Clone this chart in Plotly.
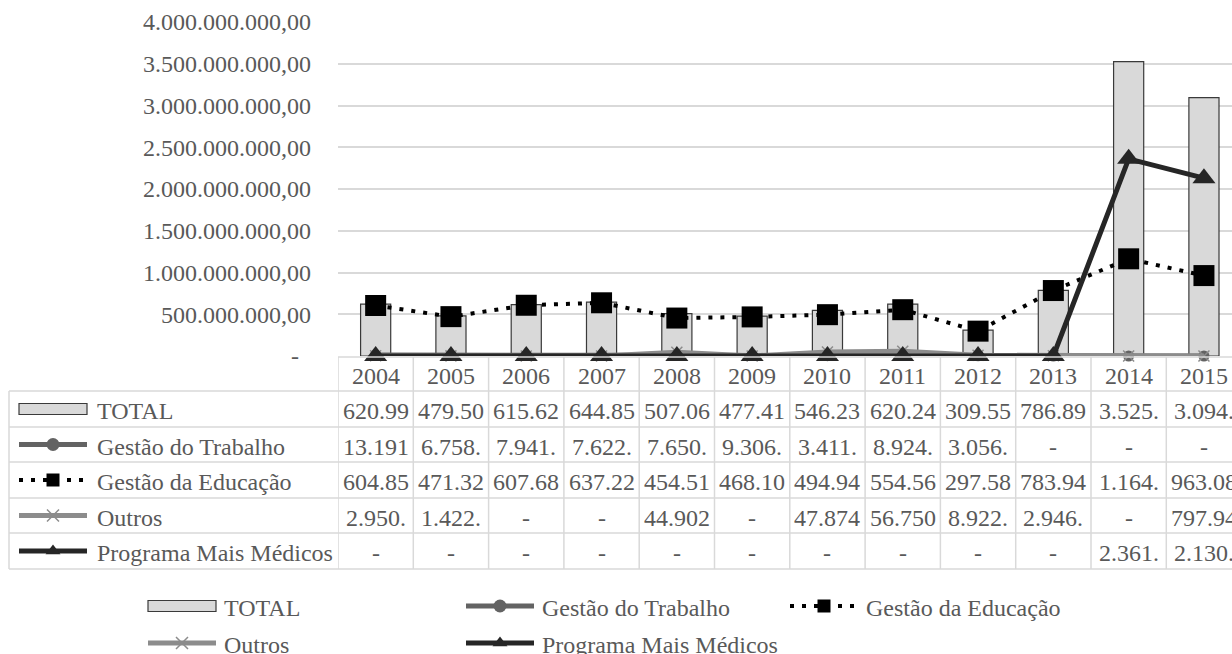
import plotly.graph_objects as go

# ---------------------------------------------------------------- data
anos = ["2004", "2005", "2006", "2007", "2008", "2009",
        "2010", "2011", "2012", "2013", "2014", "2015"]

total = [620_990_000, 479_500_000, 615_620_000, 644_850_000, 507_060_000, 477_410_000,
         546_230_000, 620_240_000, 309_550_000, 786_890_000, 3_525_000_000, 3_094_000_000]
gestao_trabalho = [13_191_000, 6_758_000, 7_941_000, 7_622_000, 7_650_000, 9_306_000,
                   3_411_000, 8_924_000, 3_056_000, 0, 0, 0]
gestao_educacao = [604_850_000, 471_320_000, 607_680_000, 637_220_000, 454_510_000, 468_100_000,
                   494_940_000, 554_560_000, 297_580_000, 783_940_000, 1_164_000_000, 963_080_000]
outros = [2_950_000, 1_422_000, 0, 0, 44_902_000, 0,
          47_874_000, 56_750_000, 8_922_000, 2_946_000, 0, 797_940]
mais_medicos = [0, 0, 0, 0, 0, 0, 0, 0, 0, 0, 2_361_000_000, 2_130_000_000]

y_ticks = [0, 500_000_000, 1_000_000_000, 1_500_000_000, 2_000_000_000,
           2_500_000_000, 3_000_000_000, 3_500_000_000, 4_000_000_000]

# ---------------------------------------------------------------- styling
W, H = 1232, 654
FONT = "Liberation Serif, Times New Roman, serif"
TXT = "#595959"
GRID = "#d9d9d9"
FS = 24

PLOT_L, PLOT_T, PLOT_B = 338, 22, 356   # plot area in pixels
COL_W = 75.3                             # width of one category column
TABLE_L = 9
ROW_LINES = [391, 427, 462, 498, 533, 569]
HEADER_TOP = 357

C_BAR = "#d9d9d9"
C_BAR_LINE = "#3a3a3a"
C_TRAB = "#636363"
C_EDU = "#000000"
C_OUT = "#8c8c8c"
C_PMM = "#262626"


def brl(v):
    s = f"{v:,.2f}"
    return s.replace(",", "X").replace(".", ",").replace("X", ".")


def cell(v):
    return "-" if v == 0 else brl(v)[:6]


def py(p):
    """pixel row -> paper y"""
    return 1 - p / H


def px(p):
    """pixel column -> paper x"""
    return p / W


series = [
    dict(name="TOTAL", values=total, kind="bar"),
    dict(name="Gestão do Trabalho", values=gestao_trabalho, kind="trab"),
    dict(name="Gestão da Educação", values=gestao_educacao, kind="edu"),
    dict(name="Outros", values=outros, kind="out"),
    dict(name="Programa Mais Médicos", values=mais_medicos, kind="pmm"),
]

fig = go.Figure()

# ---------------------------------------------------------------- main chart
fig.add_trace(go.Bar(
    x=anos, y=total, width=0.4,
    marker=dict(color=C_BAR, line=dict(color=C_BAR_LINE, width=1.2)),
    xaxis="x", yaxis="y", showlegend=False,
))
fig.add_trace(go.Scatter(
    x=anos, y=gestao_trabalho, mode="lines+markers", cliponaxis=False,
    line=dict(color=C_TRAB, width=5),
    marker=dict(symbol="circle", size=11, color=C_TRAB),
    xaxis="x", yaxis="y", showlegend=False,
))
fig.add_trace(go.Scatter(
    x=anos, y=gestao_educacao, mode="lines+markers", cliponaxis=False,
    line=dict(color=C_EDU, width=4, dash="4px,8px"),
    marker=dict(symbol="square", size=21, color=C_EDU),
    xaxis="x", yaxis="y", showlegend=False,
))
fig.add_trace(go.Scatter(
    x=anos, y=outros, mode="lines+markers", cliponaxis=False,
    line=dict(color=C_OUT, width=5),
    marker=dict(symbol="x-thin", size=11, color=C_OUT, line=dict(color=C_OUT, width=1.5)),
    xaxis="x", yaxis="y", showlegend=False,
))
fig.add_trace(go.Scatter(
    x=anos, y=mais_medicos, mode="lines+markers", cliponaxis=False,
    line=dict(color=C_PMM, width=5),
    marker=dict(symbol="triangle-up", size=20, color=C_PMM),
    xaxis="x", yaxis="y", showlegend=False,
))

# ---------------------------------------------------------------- legend keys
def add_key(kind, x0, yc, shapes):
    x1 = x0 + 68
    xc = (x0 + x1) / 2
    if kind == "bar":
        shapes.append(dict(type="rect", xref="x2", yref="y2",
                           x0=x0, x1=x1, y0=yc - 5.5, y1=yc + 5.5,
                           fillcolor=C_BAR, line=dict(color=C_BAR_LINE, width=1.2)))
        return
    if kind == "trab":
        line = dict(color=C_TRAB, width=5)
        marker = dict(symbol="circle", size=13, color=C_TRAB)
    elif kind == "edu":
        line = dict(color=C_EDU, width=4, dash="4px,8px")
        marker = dict(symbol="square", size=13, color=C_EDU)
    elif kind == "out":
        line = dict(color=C_OUT, width=5)
        marker = dict(symbol="x-thin", size=12, color=C_OUT, line=dict(color=C_OUT, width=1.5))
    else:
        line = dict(color=C_PMM, width=5)
        marker = dict(symbol="triangle-up", size=13, color=C_PMM)
    fig.add_trace(go.Scatter(x=[x0, x1], y=[yc, yc], mode="lines", line=line,
                             xaxis="x2", yaxis="y2", showlegend=False, hoverinfo="skip"))
    fig.add_trace(go.Scatter(x=[xc], y=[yc], mode="markers", marker=marker,
                             xaxis="x2", yaxis="y2", showlegend=False, hoverinfo="skip"))


shapes = []
annotations = []

# table grid lines
line_style = dict(color=GRID, width=1.5)
shapes.append(dict(type="line", xref="paper", yref="paper",
                   x0=px(PLOT_L), x1=1, y0=py(HEADER_TOP), y1=py(HEADER_TOP), line=line_style))
for r in ROW_LINES:
    shapes.append(dict(type="line", xref="paper", yref="paper",
                       x0=px(TABLE_L), x1=1, y0=py(r), y1=py(r), line=line_style))
shapes.append(dict(type="line", xref="paper", yref="paper",
                   x0=px(TABLE_L), x1=px(TABLE_L), y0=py(ROW_LINES[0]), y1=py(ROW_LINES[-1]),
                   line=line_style))
for i in range(len(anos) + 1):
    shapes.append(dict(type="line", xref="x", yref="paper",
                       x0=i - 0.5, x1=i - 0.5, y0=py(HEADER_TOP), y1=py(ROW_LINES[-1]),
                       line=line_style))

# header row: years
for i, a in enumerate(anos):
    annotations.append(dict(xref="x", yref="paper", x=i, y=py((HEADER_TOP + ROW_LINES[0]) / 2 + 2),
                            text=a, showarrow=False, xanchor="center", yanchor="middle",
                            font=dict(family=FONT, size=FS, color=TXT)))

# table body
for k, s in enumerate(series):
    yc = (ROW_LINES[k] + ROW_LINES[k + 1]) / 2
    add_key(s["kind"], 19, yc, shapes)
    annotations.append(dict(xref="paper", yref="paper", x=px(95), y=py(yc + 2),
                            text=s["name"], showarrow=False, xanchor="left", yanchor="middle",
                            font=dict(family=FONT, size=FS, color=TXT)))
    for i, v in enumerate(s["values"]):
        annotations.append(dict(xref="x", yref="paper", x=i, y=py(yc + 2),
                                text=cell(v), showarrow=False, xanchor="center",
                                yanchor="middle",
                                font=dict(family=FONT, size=FS, color=TXT)))

# bottom legend (3 columns, 2 rows)
leg_cols = [148, 466, 790]
leg_rows = [606, 643]
for k, s in enumerate(series):
    x0 = leg_cols[k % 3]
    yc = leg_rows[k // 3]
    add_key(s["kind"], x0, yc, shapes)
    annotations.append(dict(xref="paper", yref="paper", x=px(x0 + 74), y=py(yc + 2),
                            text=s["name"], showarrow=False, xanchor="left", yanchor="middle",
                            font=dict(family=FONT, size=FS, color=TXT)))

# ---------------------------------------------------------------- layout
fig.update_layout(
    width=W, height=H,
    margin=dict(l=0, r=0, t=0, b=0, autoexpand=False),
    paper_bgcolor="white", plot_bgcolor="rgba(0,0,0,0)",
    showlegend=False,
    font=dict(family=FONT, size=FS, color=TXT),
    bargap=0.6,
    xaxis=dict(
        domain=[PLOT_L / W, 1], type="category",
        range=[-0.5, -0.5 + (W - PLOT_L) / COL_W],
        showticklabels=False, showgrid=False, zeroline=False, showline=False,
        ticks="", anchor="y", fixedrange=True, automargin=False,
    ),
    yaxis=dict(
        domain=[(H - PLOT_B) / H, (H - PLOT_T) / H],
        range=[0, 4_000_000_000],
        tickvals=y_ticks,
        ticktext=[brl(v) if v else "-\u00a0\u00a0" for v in y_ticks],
        tickfont=dict(family=FONT, size=FS, color=TXT),
        showgrid=True, gridcolor=GRID, gridwidth=1.5,
        zeroline=False, showline=False, ticks="",
        ticklabelstandoff=26, anchor="x", fixedrange=True, automargin=False,
    ),
    xaxis2=dict(domain=[0, 1], range=[0, W], visible=False, anchor="y2",
                fixedrange=True, automargin=False),
    yaxis2=dict(domain=[0, 1], range=[H, 0], visible=False, anchor="x2",
                fixedrange=True, automargin=False),
    shapes=shapes,
    annotations=annotations,
)

fig.write_html("out.html")
